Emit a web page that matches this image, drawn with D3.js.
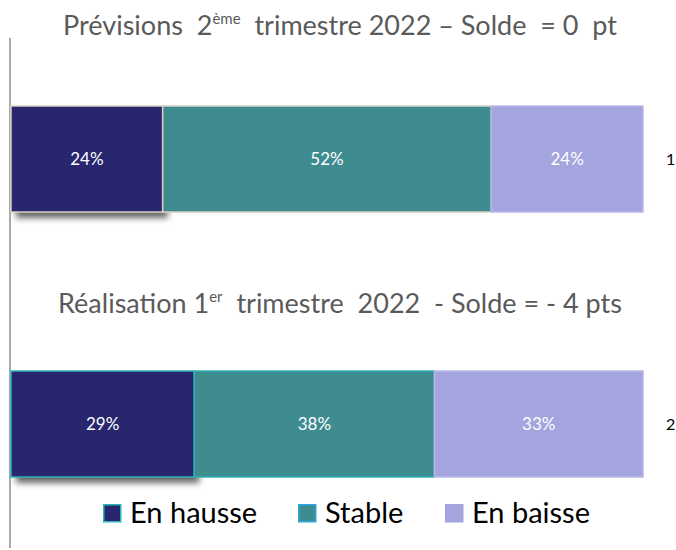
<!DOCTYPE html>
<html lang="fr">
<head>
  <meta charset="UTF-8">
  <title>Prévisions et réalisation 2022</title>
  <script src="https://d3js.org/d3.v7.min.js"></script>
  <style>
    body { margin: 0; background: #fff; font-family: Lato, "Open Sans", sans-serif; }
    .title { font-size: 27px; fill: #5a5a5a; }
    .val { font-size: 17px; fill: #fff; }
    .rowlab { font-size: 16px; fill: #000; }
    .leg { font-size: 29px; fill: #000; }
  </style>
</head>
<body>
  <svg width="676" height="550"></svg>
  <script>
    const rows = ["1", "2"];
    const series = ["En hausse", "Stable", "En baisse"];
    const hausse = [24, 29];
    const stable = [52, 38];
    const baisse = [24, 33];
    const colors = ["#27266f", "#3e8b90", "#a4a4de"];
    const titles = [
      ["Prévisions  2", "ème", "  trimestre 2022 – Solde  = 0  pt"],
      ["Réalisation 1", "er", "  trimestre  2022  - Solde = - 4 pts"]
    ];

    const svg = d3.select("svg");
    const x = d3.scaleLinear().domain([0, 100]).range([11, 643]);
    const y = d3.scaleBand().domain(rows).range([106, 477]).paddingInner(0.6);

    const defs = svg.append("defs");
    defs.append("filter").attr("id", "blur")
      .attr("x", "-20%").attr("y", "-50%").attr("width", "140%").attr("height", "200%")
      .append("feGaussianBlur").attr("stdDeviation", 3);

    // axe vertical
    svg.append("line")
      .attr("x1", 10).attr("x2", 10).attr("y1", 38).attr("y2", 548)
      .attr("stroke", "#8c8c8c").attr("stroke-width", 1.5);

    const table = rows.map((r, i) => ({ row: r, values: [hausse[i], stable[i], baisse[i]] }));
    const borders = ["#d9d2c4", "#2fb3b3"];

    table.forEach((d, i) => {
      const g = svg.append("g");
      // ombre portée du premier segment
      g.append("rect")
        .attr("x", x(0) + 5).attr("y", y(d.row) + 6)
        .attr("width", x(d.values[0]) - x(0)).attr("height", y.bandwidth())
        .attr("fill", "#666").attr("filter", "url(#blur)");

      let acc = 0;
      const segs = d.values.map((v, k) => {
        const s = { v, k, start: acc };
        acc += v;
        return s;
      });

      g.selectAll("rect.seg").data(segs).enter().append("rect")
        .attr("class", "seg")
        .attr("x", s => x(s.start))
        .attr("y", y(d.row))
        .attr("width", s => x(s.start + s.v) - x(s.start))
        .attr("height", y.bandwidth())
        .attr("fill", s => colors[s.k])
        .attr("stroke", s => s.k === 2 ? "#b8b8e8" : borders[i])
        .attr("stroke-width", 1.5);

      g.selectAll("text.val").data(segs).enter().append("text")
        .attr("class", "val")
        .attr("x", s => x(s.start + s.v / 2))
        .attr("y", y(d.row) + y.bandwidth() / 2 + 6)
        .attr("text-anchor", "middle")
        .text(s => s.v + "%");

      svg.append("text").attr("class", "rowlab")
        .attr("x", 666).attr("y", y(d.row) + y.bandwidth() / 2 + 6)
        .text(d.row);
    });

    // titres
    const titleY = [35, 313];
    titles.forEach((t, i) => {
      const txt = svg.append("text").attr("class", "title")
        .attr("x", 340).attr("y", titleY[i]).attr("text-anchor", "middle")
        .attr("xml:space", "preserve");
      txt.append("tspan").text(t[0]);
      txt.append("tspan").attr("font-size", 15).attr("dy", -11).text(t[1]);
      txt.append("tspan").attr("dy", 11).text(t[2]);
    });

    // légende
    const legX = [103, 298, 445];
    const legBorder = ["#2fb3b3", "#2aa8e0", "#a4a4de"];
    const leg = svg.selectAll("g.leg").data(series).enter().append("g")
      .attr("transform", (d, i) => `translate(${legX[i]},504)`);
    leg.append("rect")
      .attr("x", 0.75).attr("y", 0.75)
      .attr("width", 17).attr("height", 17)
      .attr("fill", (d, i) => colors[i])
      .attr("stroke", (d, i) => legBorder[i]).attr("stroke-width", 1.5);
    leg.append("text").attr("class", "leg")
      .attr("x", 27).attr("y", 19)
      .text(d => d);
  </script>
</body>
</html>
